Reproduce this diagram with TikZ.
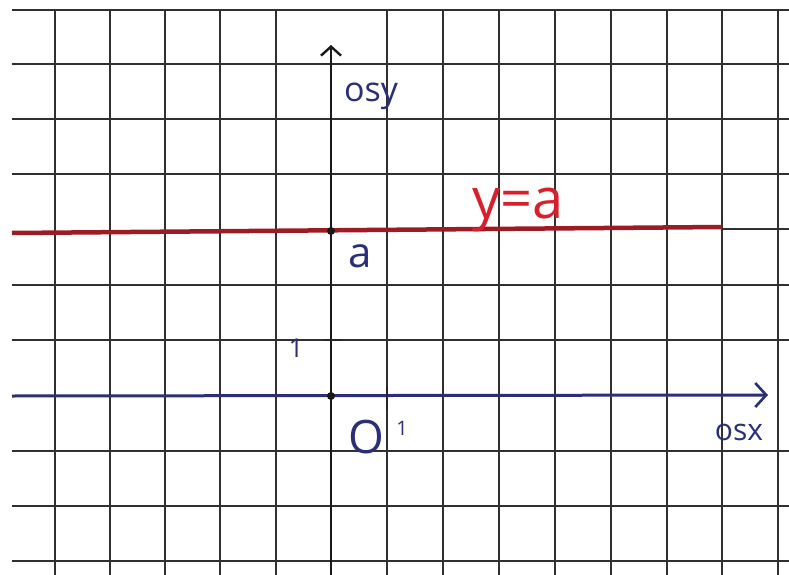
\documentclass[tikz,border=0pt]{standalone}
\usepackage{fontspec}
\setmainfont{Open Sans}
\usetikzlibrary{arrows.meta}
\definecolor{gridc}{HTML}{303030}
\definecolor{navy}{HTML}{2A2F78}
\definecolor{penred}{HTML}{D8202C}
\definecolor{linered}{HTML}{9C1C26}
\tikzset{
  gridline/.style={draw=gridc, line width=2.2pt},
  axisy/.style={draw=black!90, line width=2.6pt, -{Straight Barb[length=9pt,width=20pt,line width=2.4pt]}},
  axisx/.style={draw=navy, line width=3pt, -{Straight Barb[length=11pt,width=24pt,line width=2.6pt]}},
  redline/.style={draw=linered, line width=4.5pt},
  bluetxt/.style={text=navy, inner sep=0pt},
  redtxt/.style={text=penred, inner sep=0pt},
  tickmark/.style={draw=black!85, line width=2.4pt},
  dotmark/.style={fill=black!90, circle, inner sep=0pt, minimum size=8pt}
}
\begin{document}
\begin{tikzpicture}[x=1pt,y=-1pt]
\useasboundingbox (0,0) rectangle (789,575);
\fill[white] (0,0) rectangle (789,575);
% grid
\foreach \gx in {55,110,165,220,276,387,443,499,555,611,667,722,778}
  \draw[gridline] (\gx,10) -- (\gx,575);
\foreach \gy in {10,64,119,174,285,340,451,506,561}
  \draw[gridline] (12,\gy) -- (789,\gy);
\draw[gridline] (722,229) -- (789,229);
% coordinates
\coordinate (ybot) at (331,575);
\coordinate (ytop) at (331,45);
\coordinate (xleft) at (12,396);
\coordinate (xright) at (768,395);
\coordinate (rleft) at (12,233);
\coordinate (rright) at (722,227);
% red line y=a
\draw[redline] (rleft) -- (rright);
% axes
\draw[axisx] (xleft) -- (xright);
\draw[axisy] (ybot) -- (ytop);
% ticks and dots
\coordinate (t1a) at (324,340);
\coordinate (t1b) at (342,340);
\draw[tickmark] (t1a) -- (t1b);
\coordinate (t2a) at (387,386);
\coordinate (t2b) at (387,410);
\draw[tickmark] (t2a) -- (t2b);
\node[dotmark] (origin) at (331,396) {};
\node[dotmark] (adot) at (331,231) {};
% labels
\node[bluetxt, font=\fontsize{34}{34}\selectfont] (osy) at (371,96) {osy};
\node[redtxt, font=\fontsize{56}{56}\selectfont] (ya) at (518,210) {y=a};
\node[bluetxt, font=\fontsize{42}{42}\selectfont] (alab) at (360,256) {a};
\node[bluetxt, font=\fontsize{26}{26}\selectfont] (one y) at (296,348) {1};
\node[bluetxt, font=\fontsize{46}{46}\selectfont] (O) at (366,437) {O};
\node[bluetxt, font=\fontsize{20}{20}\selectfont] (one x) at (402,428) {1};
\node[bluetxt, font=\fontsize{30}{30}\selectfont] (osx) at (739,432) {osx};
\end{tikzpicture}
\end{document}
